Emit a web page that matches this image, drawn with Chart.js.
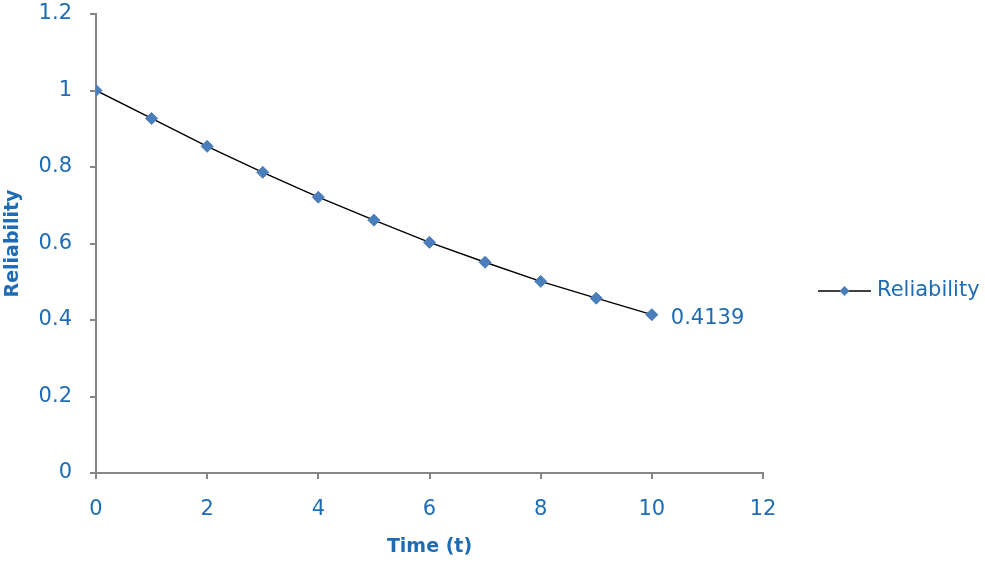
<!DOCTYPE html>
<html lang="en">
  <head>
    <meta charset="utf-8" />
    <title>Reliability vs Time</title>
    <style>
      * {
        margin: 0;
        padding: 0;
      }
      body {
        background: white;
      }
      .chartBox {
        width: 985px;
        height: 566px;
      }
    </style>
  </head>
  <body>
    <div class="chartBox">
      <canvas id="myChart"></canvas>
    </div>
    <script src="https://cdn.jsdelivr.net/npm/chart.js"></script>
    <script>
      // data
      const times = [0, 1, 2, 3, 4, 5, 6, 7, 8, 9, 10];
      const reliability = [1, 0.927, 0.854, 0.786, 0.721, 0.661, 0.603, 0.551, 0.501, 0.457, 0.4139];
      const seriesName = "Reliability";
      const lastLabel = "0.4139";

      const blue = "#1f6cb4";
      const marker = "#4a7ebb";
      const axisGray = "#868686";
      const font = "'DejaVu Sans', 'Liberation Sans', sans-serif";

      const points = times.map((t, i) => ({ x: t, y: reliability[i] }));

      // label next to the last point + legend on the right
      const extras = {
        id: "extras",
        afterDraw(chart) {
          const ctx = chart.ctx;
          const xs = chart.scales.x;
          const ys = chart.scales.y;
          const n = times.length - 1;
          const px = xs.getPixelForValue(times[n]);
          const py = ys.getPixelForValue(reliability[n]);
          ctx.save();
          ctx.font = "21px " + font;
          ctx.fillStyle = blue;
          ctx.textAlign = "left";
          ctx.textBaseline = "middle";
          ctx.fillText(lastLabel, px + 19, py + 4);

          // legend
          const lx = 818, ly = 291;
          ctx.strokeStyle = "#000";
          ctx.lineWidth = 1.4;
          ctx.beginPath();
          ctx.moveTo(lx, ly);
          ctx.lineTo(lx + 53, ly);
          ctx.stroke();
          ctx.fillStyle = marker;
          ctx.beginPath();
          ctx.moveTo(lx + 26.5, ly - 5);
          ctx.lineTo(lx + 31.5, ly);
          ctx.lineTo(lx + 26.5, ly + 5);
          ctx.lineTo(lx + 21.5, ly);
          ctx.closePath();
          ctx.fill();
          ctx.fillStyle = blue;
          ctx.fillText(seriesName, lx + 59, ly);
          ctx.restore();
        },
      };

      const data = {
        datasets: [
          {
            label: seriesName,
            data: points,
            showLine: true,
            borderColor: "#000",
            borderWidth: 1.4,
            tension: 0,
            pointStyle: "rectRot",
            pointRadius: 6,
            pointHoverRadius: 6,
            pointBackgroundColor: marker,
            pointBorderColor: marker,
            pointBorderWidth: 1,
          },
        ],
      };

      const config = {
        type: "scatter",
        data,
        options: {
          responsive: true,
          maintainAspectRatio: false,
          animation: false,
          layout: {
            padding: { top: 14, right: 222, left: 0, bottom: 0 },
          },
          plugins: {
            legend: { display: false },
            tooltip: { enabled: false },
          },
          scales: {
            x: {
              type: "linear",
              min: 0,
              max: 12,
              ticks: {
                stepSize: 2,
                color: blue,
                font: { family: font, size: 21 },
                padding: 18,
              },
              grid: {
                drawOnChartArea: false,
                drawTicks: true,
                tickLength: 6,
                color: axisGray,
                lineWidth: 2,
              },
              border: { color: axisGray, width: 2 },
              title: {
                display: true,
                text: "Time (t)",
                color: blue,
                font: { family: font, size: 19, weight: "bold" },
                padding: { top: 0, bottom: 8 },
              },
              afterFit(scale) {
                scale.height = 93;
                scale.paddingLeft = 0;
                scale.paddingRight = 0;
              },
            },
            y: {
              min: 0,
              max: 1.2,
              ticks: {
                stepSize: 0.2,
                color: blue,
                font: { family: font, size: 21 },
                padding: 18,
                callback: (v) => Math.round(v * 10) / 10,
              },
              grid: {
                drawOnChartArea: false,
                drawTicks: true,
                tickLength: 6,
                color: axisGray,
                lineWidth: 2,
              },
              border: { color: axisGray, width: 2 },
              title: {
                display: true,
                text: "Reliability",
                color: blue,
                font: { family: font, size: 19, weight: "bold" },
                padding: { top: 2, bottom: 0 },
              },
              afterFit(scale) {
                scale.width = 96;
                scale.paddingTop = 0;
                scale.paddingBottom = 0;
              },
            },
          },
        },
        plugins: [extras],
      };

      const myChart = new Chart(document.getElementById("myChart"), config);
    </script>
  </body>
</html>
